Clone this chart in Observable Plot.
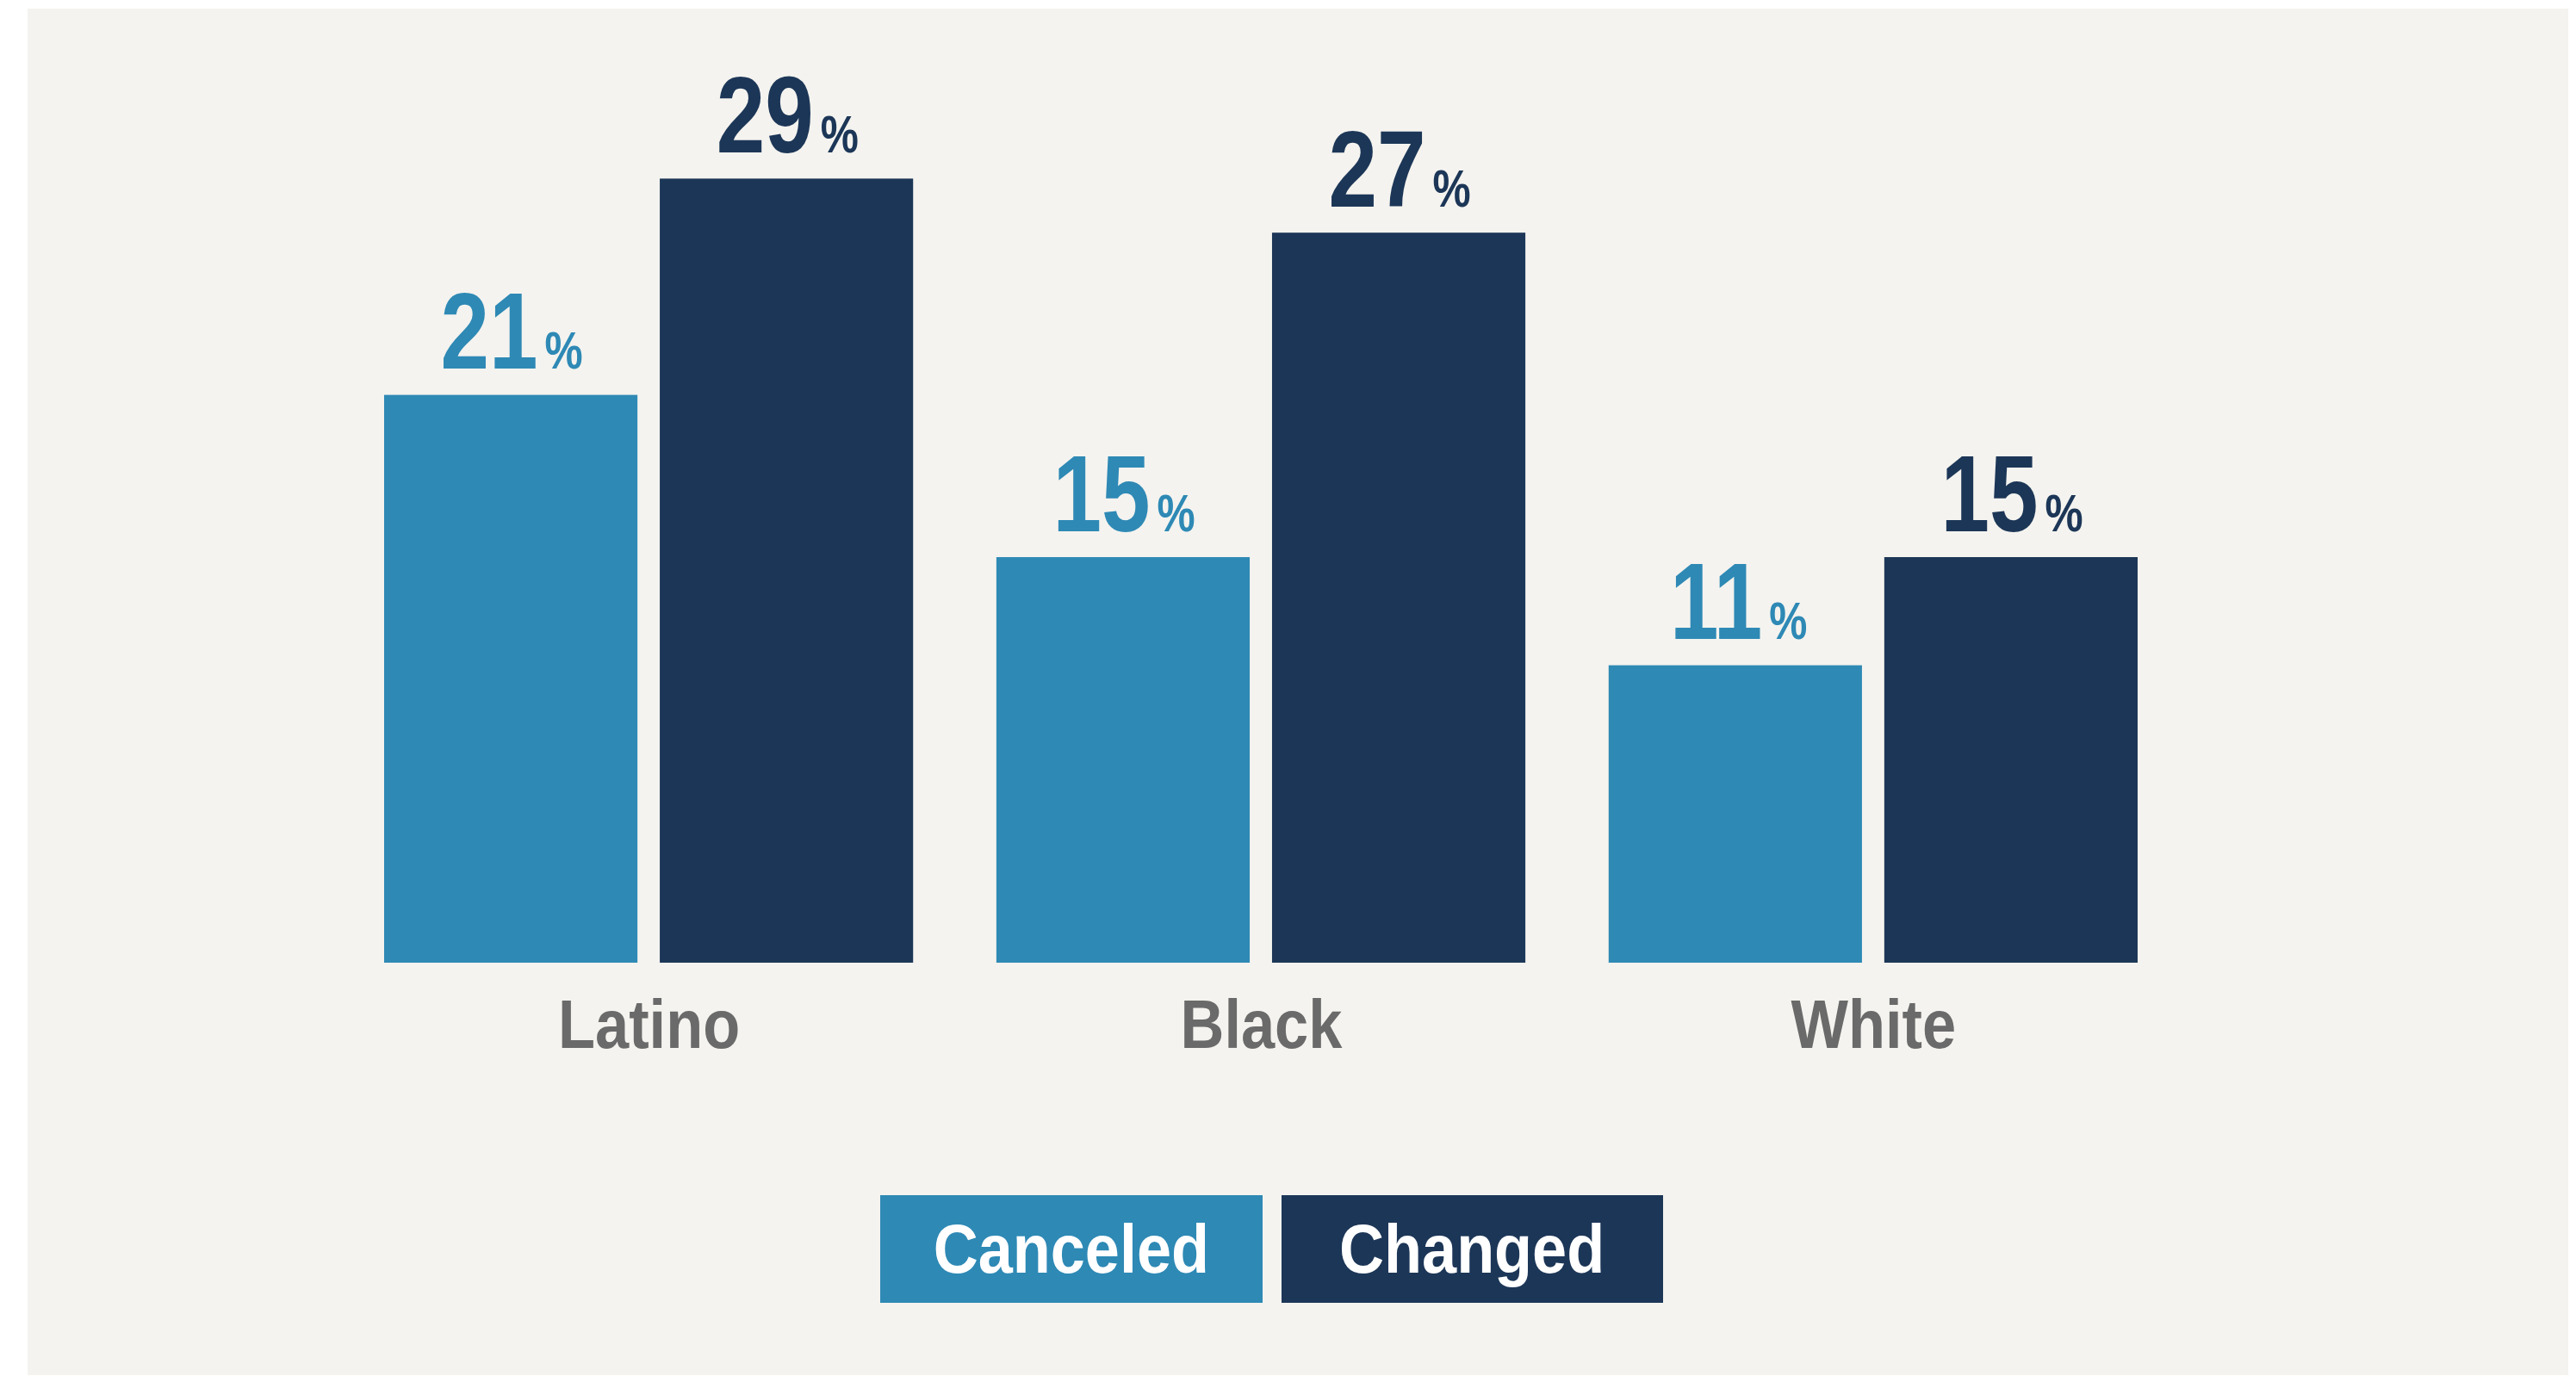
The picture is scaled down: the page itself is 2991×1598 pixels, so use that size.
<!DOCTYPE html>
<html>
<head>
<meta charset="utf-8">
<script src="https://cdn.jsdelivr.net/npm/d3@7"></script>
<script src="https://cdn.jsdelivr.net/npm/@observablehq/plot@0.6"></script>
<style>
  html, body { margin: 0; padding: 0; background: #ffffff; }
  #page { position: relative; width: 2991px; height: 1598px; overflow: hidden; }
  #panel { position: absolute; left: 32px; top: 10px; width: 2950px; height: 1587px; background: #f4f3ef; }
  #chart { position: absolute; left: 0; top: 0; }
  #legend { position: absolute; left: 1022px; top: 1388px; display: flex; gap: 22px; }
  .key { height: 125px; line-height: 125px; text-align: center; color: #ffffff;
         font-family: "Liberation Sans", Arial, sans-serif;
         font-weight: bold; font-size: 80px; }
  .key span { display: inline-block; transform: scaleX(0.9); }
</style>
</head>
<body>
<div id="page">
  <div id="panel"></div>
  <div id="chart"></div>
  <div id="legend"></div>
</div>
<script>
const groups = ["Latino", "Black", "White"];
const seriesNames = ["Canceled", "Changed"];
const canceledValues = [21, 15, 11];
const changedValues = [29, 27, 15];
const seriesColors = ["#2e89b5", "#1c3657"];

const rows = groups.flatMap((g, i) => [
  {group: g, series: "Canceled", value: canceledValues[i]},
  {group: g, series: "Changed", value: changedValues[i]}
]);

const font = "'Liberation Sans', Arial, sans-serif";

const chart = Plot.plot({
  width: 2991,
  height: 1260,
  marginLeft: 446,
  marginRight: 509,
  marginTop: 176,
  marginBottom: 142,
  style: {background: "transparent", fontFamily: font, overflow: "visible"},
  fx: {domain: groups, paddingInner: 0.136, paddingOuter: 0, round: false, label: null},
  x: {domain: seriesNames, paddingInner: 0.081, paddingOuter: 0, round: false, axis: null},
  y: {domain: [0, 30], axis: null},
  color: {domain: seriesNames, range: seriesColors},
  marks: [
    Plot.barY(rows, {fx: "group", x: "series", y: "value", fill: "series"}),
    // the number of the value label
    Plot.text(rows, {
      fx: "group", x: "series", y: "value",
      text: d => String(d.value),
      fill: "series", textAnchor: "end", dx: 31, dy: -31,
      fontSize: 127, fontWeight: "bold"
    }),
    // the smaller percent sign that follows it
    Plot.text(rows, {
      fx: "group", x: "series", y: "value",
      text: () => "%",
      fill: "series", textAnchor: "start", dx: 39, dy: -31,
      fontSize: 62, fontWeight: "bold"
    }),
    Plot.axisFx({anchor: "bottom", tickSize: 0, tickPadding: 42, fontSize: 80, fontWeight: "bold", fill: "#6a6a6a", label: null})
  ]
});

document.getElementById("chart").append(chart);

// value labels: put the baseline at the anchor point so number and % share it
chart.querySelectorAll('g[aria-label="text"] text').forEach(t => {
  t.removeAttribute("y");
  t.removeAttribute("dy");
});

// condense the glyphs horizontally about their anchor (the original uses a condensed grotesque)
function squeeze(selector, factor) {
  chart.querySelectorAll(selector).forEach(t => {
    const x = +(t.getAttribute("x") || 0);
    t.removeAttribute("x");
    const tr = t.getAttribute("transform") || "";
    t.setAttribute("transform", `${tr} translate(${x},0) scale(${factor},1)`);
  });
}
squeeze('g[aria-label="text"] text', 0.8);
squeeze('g[aria-label="fx-axis tick label"] text', 0.88);

const legend = document.getElementById("legend");
seriesNames.forEach((name, i) => {
  const k = document.createElement("div");
  k.className = "key";
  k.style.background = seriesColors[i];
  k.style.width = (i === 0 ? 444 : 443) + "px";
  const sp = document.createElement("span");
  sp.textContent = name;
  k.append(sp);
  legend.append(k);
});
</script>
</body>
</html>
